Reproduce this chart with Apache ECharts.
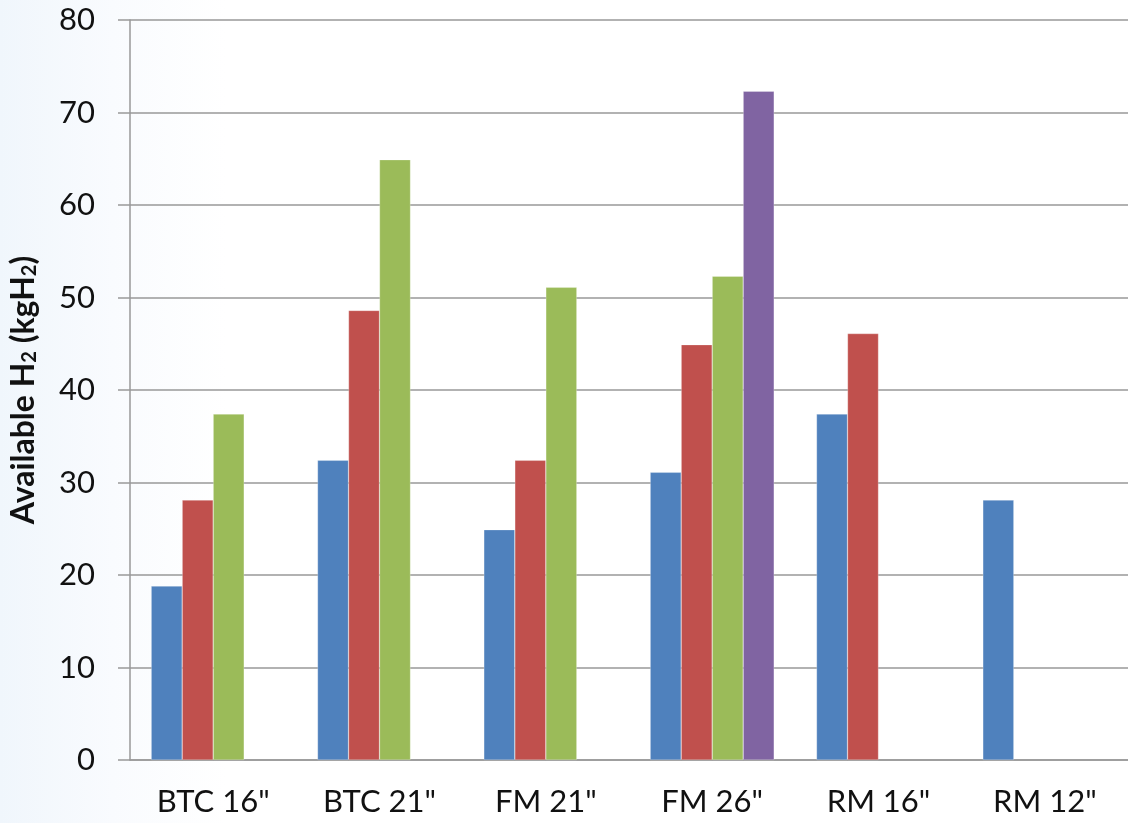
<!DOCTYPE html>
<html>
<head>
<meta charset="utf-8">
<script src="https://cdn.jsdelivr.net/npm/echarts@6/dist/echarts.min.js"></script>
<style>
  html, body { margin: 0; padding: 0; }
  #bar { width: 1128px; height: 823px; }
</style>
</head>
<body>
<div id="bar"></div>
<script>
const categories = ['BTC 16"', 'BTC 21"', 'FM 21"', 'FM 26"', 'RM 16"', 'RM 12"'];
const blueData = [18.8, 32.4, 24.9, 31.1, 37.4, 28.1];
const redData = [28.1, 48.6, 32.4, 44.9, 46.1, null];
const greenData = [37.4, 64.9, 51.1, 52.3, null, null];
const purpleData = [null, null, null, 72.3, null, null];
const yTicks = [0, 10, 20, 30, 40, 50, 60, 70, 80];

const colors = ['#4F81BD', '#C0504D', '#9BBB59', '#8064A2'];
const font = 'Lato, "Open Sans", sans-serif';

const makeSeries = (data, i) => ({
  type: 'bar',
  data: data,
  barWidth: 31,
  barGap: '0%',
  itemStyle: { color: colors[i], borderColor: 'rgba(255,255,255,0.5)', borderWidth: 0.5 },
});

const myChart = echarts.init(document.getElementById('bar'));
const option = {
  backgroundColor: {
    type: 'linear', x: 0, y: 0, x2: 1, y2: 0,
    colorStops: [
      { offset: 0, color: '#f0f6fc' },
      { offset: 0.1, color: '#f9fbfe' },
      { offset: 0.2, color: '#ffffff' },
      { offset: 1, color: '#ffffff' },
    ],
  },
  animation: false,
  grid: { left: 128, top: 20, bottom: 63, right: -14 },
  xAxis: {
    type: 'category',
    data: categories,
    axisLine: { lineStyle: { color: '#999', width: 1.5 } },
    axisTick: { length: 12, lineStyle: { color: '#999', width: 1.5 } },
    axisLabel: { color: '#111', fontSize: 31, fontFamily: font, margin: 26 },
  },
  yAxis: {
    type: 'value',
    min: yTicks[0],
    max: yTicks[yTicks.length - 1],
    interval: 10,
    name: '{b|Available H}{s|2}{b| (kgH}{s|2}{b|)}',
    nameLocation: 'middle',
    nameGap: 90,
    nameTextStyle: {
      rich: {
        b: { fontSize: 32, fontWeight: 'bold', fontFamily: font, color: '#111' },
        s: { fontSize: 20, fontWeight: 'bold', fontFamily: font, color: '#111', verticalAlign: 'bottom', padding: [12, 0, 0, 0] },
      },
    },
    axisLine: { show: true, lineStyle: { color: '#999', width: 1.5 } },
    axisTick: { show: true, length: 12, lineStyle: { color: '#999', width: 1.5 } },
    axisLabel: { color: '#111', fontSize: 31, fontFamily: font, margin: 35 },
    splitLine: { lineStyle: { color: '#999', width: 1.5 } },
  },
  series: [blueData, redData, greenData, purpleData].map(makeSeries),
};
myChart.setOption(option);
window.onresize = function () {
  myChart.resize();
};
</script>
</body>
</html>
